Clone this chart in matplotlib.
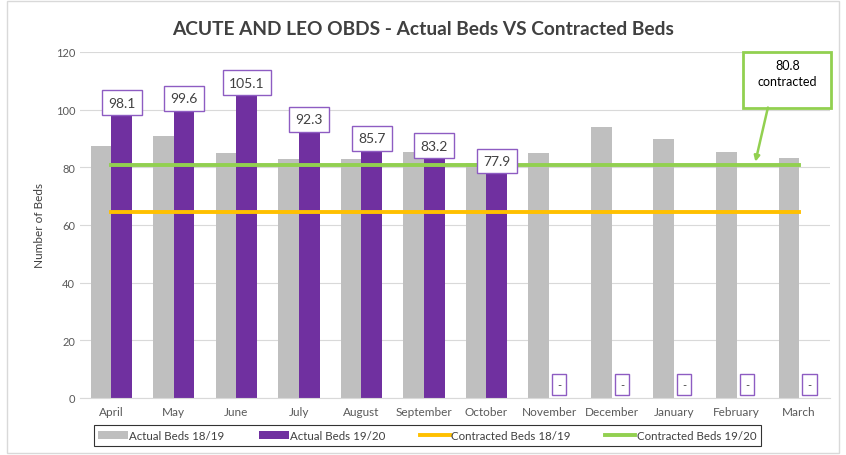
import matplotlib.pyplot as plt
import numpy as np
from matplotlib.patches import Rectangle

plt.rcParams['font.family'] = ['Lato', 'DejaVu Sans']

months = ['April', 'May', 'June', 'July', 'August', 'September', 'October',
          'November', 'December', 'January', 'February', 'March']
actual_1819 = [87.4, 90.7, 85.0, 82.7, 82.9, 85.2, 81.5, 85.0, 94.1, 89.9, 85.2, 83.3]
actual_1920 = [98.1, 99.6, 105.1, 92.3, 85.7, 83.2, 77.9]
contracted_1819 = [64.5] * 12
contracted_1920 = [80.8] * 12

grey = '#bfbfbf'
purple = '#7030a0'
orange = '#ffc000'
green = '#92d050'

fig = plt.figure(figsize=(8.46, 4.56), dpi=100)
ax = fig.add_axes([0.0946, 0.125, 0.887, 0.759])

x = np.arange(len(months))
w = 0.33
b1 = ax.bar(x - w / 2, actual_1819, w, color=grey, label='Actual Beds 18/19', zorder=2)
b2 = ax.bar(x[:len(actual_1920)] + w / 2, actual_1920, w, color=purple,
            label='Actual Beds 19/20', zorder=2)
l1, = ax.plot(x, contracted_1819, color=orange, lw=2.8, label='Contracted Beds 18/19', zorder=3)
l2, = ax.plot(x, contracted_1920, color=green, lw=2.8, label='Contracted Beds 19/20', zorder=3)

box = dict(boxstyle='square,pad=0.45', fc='white', ec='#8e5cc2', lw=1)
for i, v in enumerate(actual_1920):
    ax.text(x[i] + w / 2, v + 2.2, f'{v}', ha='center', va='bottom',
            fontsize=10, color='#404040', bbox=box, zorder=4)
for i in range(len(actual_1920), len(months)):
    ax.text(x[i] + w / 2, 4.8, '-', ha='center', va='center',
            fontsize=8, color='#404040', bbox=box, zorder=4)

# callout for the contracted line
ax.add_patch(Rectangle((10.107, 100.7), 1.4, 19.4, fc='white', ec=green, lw=2,
                       clip_on=False, zorder=5))
ax.text(10.81, 112.6, '80.8\ncontracted', ha='center', va='center', fontsize=9,
        color='black', linespacing=1.35, zorder=6, clip_on=False)
ax.annotate('', xy=(10.3, 81.9), xytext=(10.5, 100.7),
            arrowprops=dict(arrowstyle='-|>', color=green, lw=1.8,
                            mutation_scale=8, shrinkA=0, shrinkB=0),
            zorder=5, annotation_clip=False)

ax.set_xlim(-0.5, 11.5)
ax.set_ylim(0, 120)
ax.set_yticks(range(0, 121, 20))
ax.set_xticks(x)
ax.set_xticklabels(months)
ax.tick_params(axis='both', length=0, labelsize=8, colors='#595959')
ax.tick_params(axis='x', labelsize=8.5, pad=6)
ax.grid(axis='y', color='#d9d9d9', lw=0.8, zorder=0)
for s in ['top', 'right', 'left']:
    ax.spines[s].set_visible(False)
ax.spines['bottom'].set_color('#d9d9d9')
ax.set_ylabel('Number of Beds', fontsize=8.5, color='#404040', labelpad=8)

fig.suptitle('ACUTE AND LEO OBDS - Actual Beds VS Contracted Beds',
             fontsize=13.8, fontweight='bold', color='#404040', y=0.955)

leg = fig.legend([b1, b2, l1, l2], [h.get_label() for h in [b1, b2, l1, l2]],
                 loc='lower center', bbox_to_anchor=(0.505, 0.008), ncol=4,
                 fontsize=8.3, frameon=True, fancybox=False, edgecolor='black',
                 handlelength=2.6, handletextpad=0.1, columnspacing=3.0,
                 borderpad=0.4)
leg.get_frame().set_linewidth(0.8)
for t in leg.get_texts():
    t.set_color('#404040')

fig.patches.append(Rectangle((0.008, 0.005), 0.984, 0.99, transform=fig.transFigure,
                             fill=False, ec='#d9d9d9', lw=1))

fig.savefig('out.png', dpi=100)
